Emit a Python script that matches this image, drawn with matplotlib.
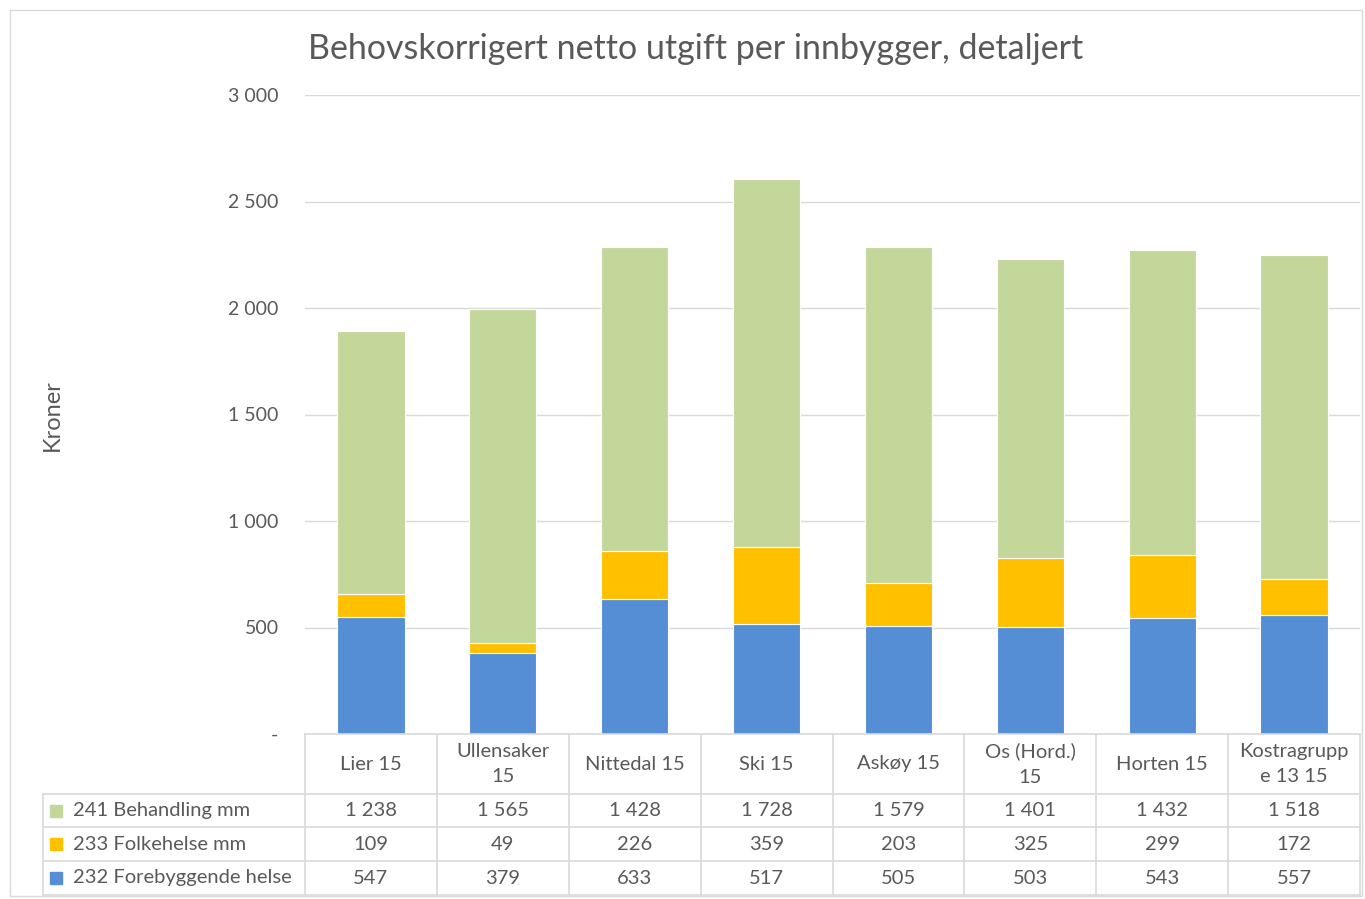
import matplotlib
matplotlib.use("Agg")
import matplotlib.pyplot as plt
import numpy as np
from matplotlib.patches import Rectangle

plt.rcParams['font.family'] = ['Lato', 'DejaVu Sans']

categories = ["Lier 15", "Ullensaker\n15", "Nittedal 15", "Ski 15", "Askøy 15",
              "Os (Hord.)\n15", "Horten 15", "Kostragrupp\ne 13 15"]
forebyggende = [547, 379, 633, 517, 505, 503, 543, 557]
folkehelse = [109, 49, 226, 359, 203, 325, 299, 172]
behandling = [1238, 1565, 1428, 1728, 1579, 1401, 1432, 1518]
series_names = ["241 Behandling mm", "233 Folkehelse mm", "232 Forebyggende helse"]
yticks = [0, 500, 1000, 1500, 2000, 2500, 3000]
ytick_labels = ["-", "500", "1 000", "1 500", "2 000", "2 500", "3 000"]

c_blue = "#558ed5"
c_orange = "#ffc000"
c_green = "#c4d79b"
grey_txt = "#595959"
line_c = "#d9d9d9"

W, H = 1365, 899
fig = plt.figure(figsize=(W / 100, H / 100), dpi=100)

def fx(px):
    return px / W

def fy(py):
    return 1 - py / H

# outer border
fig.patches.append(Rectangle((fx(10), fy(896)), fx(1362) - fx(10), fy(10) - fy(896),
                             transform=fig.transFigure, fill=False, edgecolor=line_c, lw=1))

ax_l, ax_r, ax_t, ax_b = 305, 1360, 95, 734
ax = fig.add_axes([fx(ax_l), fy(ax_b), fx(ax_r) - fx(ax_l), fy(ax_t) - fy(ax_b)])
n = len(categories)
x = np.arange(n)
bw = 0.51
b1 = np.array(forebyggende)
b2 = np.array(folkehelse)
b3 = np.array(behandling)
ax.bar(x, b1, bw, color=c_blue, edgecolor="white", lw=0.8, zorder=3)
ax.bar(x, b2, bw, bottom=b1, color=c_orange, edgecolor="white", lw=0.8, zorder=3)
ax.bar(x, b3, bw, bottom=b1 + b2, color=c_green, edgecolor="white", lw=0.8, zorder=3)
ax.set_xlim(-0.5, n - 0.5)
ax.set_ylim(0, 3000)
ax.set_yticks(yticks)
ax.set_yticklabels(ytick_labels, fontsize=14, color=grey_txt)
ax.tick_params(axis='y', length=0, pad=19)
ax.set_xticks([])
ax.grid(axis='y', color=line_c, lw=1, zorder=0)
for s in ax.spines.values():
    s.set_visible(False)

fig.text(fx(52), fy(415), "Kroner", rotation=90, ha="center", va="center",
         fontsize=17, color=grey_txt)
fig.text(fx(696), fy(49), "Behovskorrigert netto utgift per innbygger, detaljert",
         ha="center", va="center", fontsize=24.5, color=grey_txt)

# data table
tb = fig.add_axes([0, 0, 1, 1], facecolor="none")
tb.set_xlim(0, W)
tb.set_ylim(H, 0)
tb.axis("off")
colw = (ax_r - ax_l) / n
rows_y = [734, 794, 827, 861, 895]
tb.plot([ax_l, ax_r], [734, 734], color=line_c, lw=1.2)
for yy in rows_y[1:]:
    tb.plot([43, ax_r], [yy, yy], color=line_c, lw=1.2)
for k in range(n + 1):
    xx = ax_l + k * colw
    tb.plot([xx, xx], [734, 895], color=line_c, lw=1.2)
tb.plot([43, 43], [794, 895], color=line_c, lw=1.2)

fs = 14.5
for i, cat in enumerate(categories):
    cx = ax_l + (i + 0.5) * colw
    tb.text(cx, 764, cat, ha="center", va="center", fontsize=fs, color=grey_txt,
            linespacing=1.6)

def fmt(v):
    return f"{v:,}".replace(",", " ")

table_series = [(series_names[0], behandling, c_green),
                (series_names[1], folkehelse, c_orange),
                (series_names[2], forebyggende, c_blue)]
for r, (name, vals, col) in enumerate(table_series):
    cy = (rows_y[r + 1] + rows_y[r + 2]) / 2
    tb.add_patch(Rectangle((50, cy - 6), 12, 12, color=col))
    tb.text(73, cy, name, ha="left", va="center", fontsize=fs, color=grey_txt)
    for i, v in enumerate(vals):
        cx = ax_l + (i + 0.5) * colw
        tb.text(cx, cy, fmt(v), ha="center", va="center", fontsize=fs, color=grey_txt)

fig.savefig("out.png", dpi=100)
